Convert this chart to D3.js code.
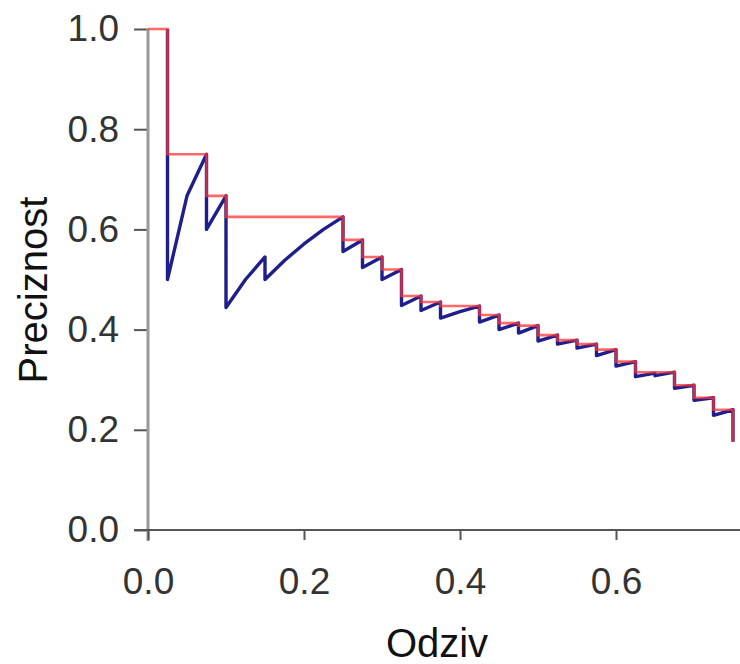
<html>
  <head>
    <script src="https://d3js.org/d3.v7.min.js"></script>
    <style>
      body { margin: 0; background: white; }
      text { font-family: "Liberation Sans", Arial, sans-serif; }
    </style>
  </head>
  <body>
    <script>
      // raw precision / recall points (blue)
      var recall = [0.025, 0.025, 0.05, 0.075, 0.075, 0.1, 0.1, 0.125, 0.15, 0.15,
                    0.175, 0.2, 0.225, 0.25, 0.25, 0.275, 0.275, 0.3, 0.3, 0.325,
                    0.325, 0.35, 0.35, 0.375, 0.375, 0.4, 0.425, 0.425, 0.45, 0.45,
                    0.475, 0.475, 0.5, 0.5, 0.525, 0.525, 0.55, 0.55, 0.575, 0.575,
                    0.6, 0.6, 0.625, 0.625, 0.65, 0.65, 0.675, 0.675, 0.7, 0.7,
                    0.725, 0.725, 0.75, 0.75]
      var precision = [1.0, 0.5, 0.667, 0.75, 0.6, 0.667, 0.444, 0.5, 0.545, 0.5,
                       0.538, 0.571, 0.6, 0.625, 0.556, 0.579, 0.524, 0.545, 0.5, 0.52,
                       0.448, 0.467, 0.438, 0.455, 0.423, 0.436, 0.447, 0.415, 0.429, 0.4,
                       0.413, 0.393, 0.408, 0.377, 0.389, 0.371, 0.379, 0.363, 0.371, 0.348,
                       0.36, 0.327, 0.336, 0.306, 0.313, 0.308, 0.315, 0.283, 0.289, 0.259,
                       0.264, 0.229, 0.24, 0.176]

      // interpolated precision (red step line)
      var interpRecall = [0, 0.025, 0.075, 0.1, 0.25, 0.275, 0.3, 0.325, 0.35, 0.375,
                          0.425, 0.45, 0.475, 0.5, 0.525, 0.55, 0.575, 0.6, 0.625, 0.675,
                          0.7, 0.725, 0.75]
      var interpPrecision = [1.0, 0.75, 0.667, 0.625, 0.579, 0.545, 0.52, 0.467, 0.455, 0.447,
                             0.429, 0.413, 0.408, 0.389, 0.379, 0.371, 0.36, 0.336, 0.315, 0.289,
                             0.264, 0.24, 0.176]

      var xTicks = [0.0, 0.2, 0.4, 0.6]
      var yTicks = [0.0, 0.2, 0.4, 0.6, 0.8, 1.0]

      var width = 740
      var height = 664

      var svg = d3.select("body").append("svg")
      .attr("width", width)
      .attr("height", height);

      var x = d3.scaleLinear().domain([0, 0.76]).range([148, 148 + 780 * 0.76])
      var y = d3.scaleLinear().domain([0, 1]).range([530, 29])

      // y axis
      var yAxis = svg.append("g")
      .attr("transform", "translate(" + x(0) + ",0)")
      .call(d3.axisLeft(y).tickValues(yTicks).tickFormat(d3.format(".1f"))
        .tickSize(14).tickPadding(15).tickSizeOuter(0));
      yAxis.select(".domain").remove();
      yAxis.append("line")
      .attr("x1", 0).attr("x2", 0)
      .attr("y1", y(1)).attr("y2", y(0) + 11)
      .style("stroke", "#999")
      .style("stroke-width", 3);

      // x axis
      var xAxis = svg.append("g")
      .attr("transform", "translate(0," + y(0) + ")")
      .call(d3.axisBottom(x).tickValues(xTicks).tickFormat(d3.format(".1f"))
        .tickSize(10).tickPadding(28).tickSizeOuter(0));
      xAxis.select(".domain").remove();
      xAxis.append("line")
      .attr("x1", x(0) - 14).attr("x2", width)
      .attr("y1", 0).attr("y2", 0)
      .style("stroke", "#555")
      .style("stroke-width", 2);

      svg.selectAll(".tick line").style("stroke", "#555").style("stroke-width", 2);
      svg.selectAll(".tick text")
      .style("font-size", "37px")
      .style("fill", "#333");

      // lines
      var rawLine = d3.line()
      .x(function(d, i) { return x(recall[i]); })
      .y(function(d, i) { return y(precision[i]); });

      svg.append("path")
      .attr("d", rawLine(precision))
      .style("fill", "none")
      .style("stroke", "#1e1e8c")
      .style("stroke-width", 3.4)
      .style("stroke-linejoin", "round");

      var interpLine = d3.line()
      .curve(d3.curveStepAfter)
      .x(function(d, i) { return x(interpRecall[i]); })
      .y(function(d, i) { return y(interpPrecision[i]); });

      svg.append("path")
      .attr("d", interpLine(interpPrecision))
      .style("fill", "none")
      .style("stroke", "#ff3535")
      .style("stroke-opacity", 0.75)
      .style("stroke-width", 2.6);

      // axis titles
      svg.append("text")
      .attr("transform", "translate(47,290) rotate(-90)")
      .attr("text-anchor", "middle")
      .style("font-size", "40px")
      .style("fill", "#111")
      .text("Preciznost");

      svg.append("text")
      .attr("x", 437)
      .attr("y", 657)
      .attr("text-anchor", "middle")
      .style("font-size", "40px")
      .style("fill", "#111")
      .text("Odziv");
    </script>
  </body>
</html>
